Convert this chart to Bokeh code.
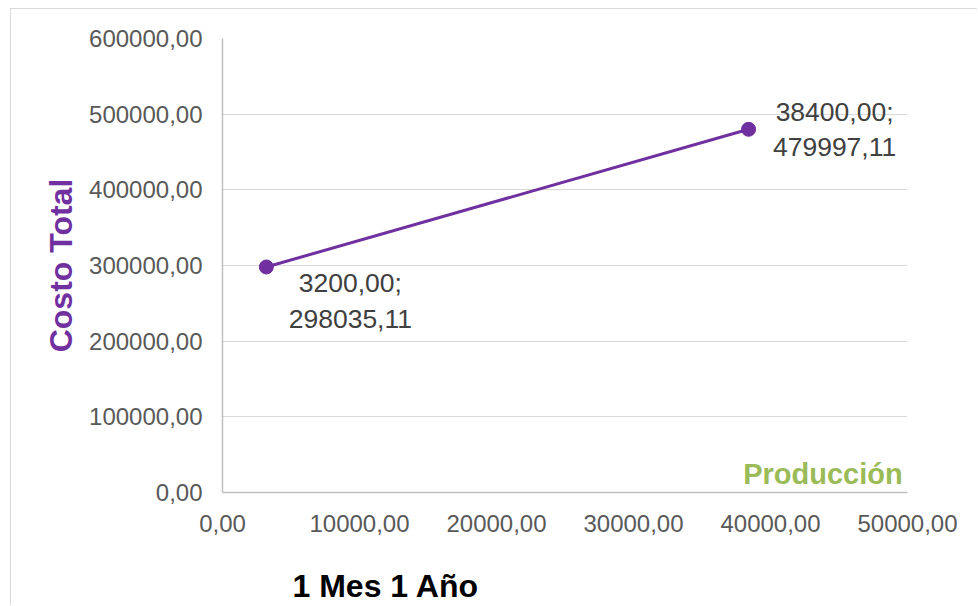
from bokeh.plotting import figure
from bokeh.models import FixedTicker, Label, ColumnDataSource, Range1d, Title
from bokeh.embed import file_html
from bokeh.resources import INLINE
from bokeh.core.properties import value

# ---- data ----
produccion = [3200.00, 38400.00]
costo_total = [298035.11, 479997.11]
x_ticks = [0, 10000, 20000, 30000, 40000, 50000]
x_tick_labels = ["0,00", "10000,00", "20000,00", "30000,00", "40000,00", "50000,00"]
y_ticks = [0, 100000, 200000, 300000, 400000, 500000, 600000]
y_tick_labels = ["0,00", "100000,00", "200000,00", "300000,00", "400000,00", "500000,00", "600000,00"]
x_title = "Producción"
y_title = "Costo Total"
chart_title = "1 Mes 1 Año"


def fmt(v):
    return f"{v:.2f}".replace(".", ",")


point_labels = [f"{fmt(x)};\n{fmt(y)}" for x, y in zip(produccion, costo_total)]

# ---- style ----
FONT = "Liberation Sans"
PURPLE = "#7030A0"
GREEN = "#9BBB59"
label_dx = [84, 86]
label_dy = [34, 0]

p = figure(width=967, height=597, output_backend="svg", toolbar_location=None,
           x_range=Range1d(x_ticks[0], x_ticks[-1]), y_range=Range1d(y_ticks[0], y_ticks[-1]),
           min_border_left=211, min_border_right=71, min_border_top=29, min_border_bottom=114)
p.styles = {"margin-left": "10px", "margin-top": "8px",
            "border-left": "1px solid #D9D9D9", "border-top": "1px solid #D9D9D9"}
p.outline_line_color = None
p.background_fill_color = "white"
p.border_fill_color = "white"

src = ColumnDataSource(dict(x=produccion, y=costo_total, lab=point_labels,
                            dx=label_dx, dy=label_dy))
p.line("x", "y", source=src, line_color=PURPLE, line_width=3)
p.scatter("x", "y", source=src, size=14, fill_color=PURPLE, line_color=PURPLE)
p.text("x", "y", text="lab", source=src, x_offset="dx", y_offset="dy",
       text_font=value(FONT), text_font_size="26.5px", text_color="#404040",
       text_align="center", text_baseline="middle", text_line_height=1.18)

# axes
p.xaxis.ticker = FixedTicker(ticks=x_ticks)
p.yaxis.ticker = FixedTicker(ticks=y_ticks)
p.xaxis.major_label_overrides = {t: l for t, l in zip(x_ticks, x_tick_labels)}
p.yaxis.major_label_overrides = {t: l for t, l in zip(y_ticks, y_tick_labels)}
for ax in (p.xaxis, p.yaxis):
    ax.major_tick_out = 0
    ax.major_tick_in = 0
    ax.minor_tick_out = 0
    ax.minor_tick_in = 0
    ax.axis_line_color = "#BFBFBF"
    ax.axis_line_width = 1.5
    ax.major_label_text_font = FONT
    ax.major_label_text_font_size = "24px"
    ax.major_label_text_color = "#595959"
p.xaxis.major_label_standoff = 22
p.yaxis.major_label_standoff = 20

p.yaxis.axis_label = y_title
p.yaxis.axis_label_text_font = FONT
p.yaxis.axis_label_text_font_size = "32px"
p.yaxis.axis_label_text_font_style = "bold"
p.yaxis.axis_label_text_color = PURPLE
p.yaxis.axis_label_standoff = 7

p.xgrid.grid_line_color = None
p.ygrid.grid_line_color = "#D9D9D9"
p.ygrid.grid_line_width = 1.2

# in-plot x title
p.add_layout(Label(x=49650, y=3100, text=x_title, text_font=FONT, text_font_size="29px",
                   text_font_style="bold", text_color=GREEN, text_align="right",
                   text_baseline="bottom"))
# bottom caption
p.add_layout(Title(text=chart_title, align="left", offset=70, standoff=0,
                   vertical_align="top", padding=dict(left=0, right=0, top=33, bottom=0),
                   text_font=FONT, text_font_size="32px", text_font_style="bold",
                   text_color="black"), "below")

open("out.html", "w").write(file_html(p, INLINE))
